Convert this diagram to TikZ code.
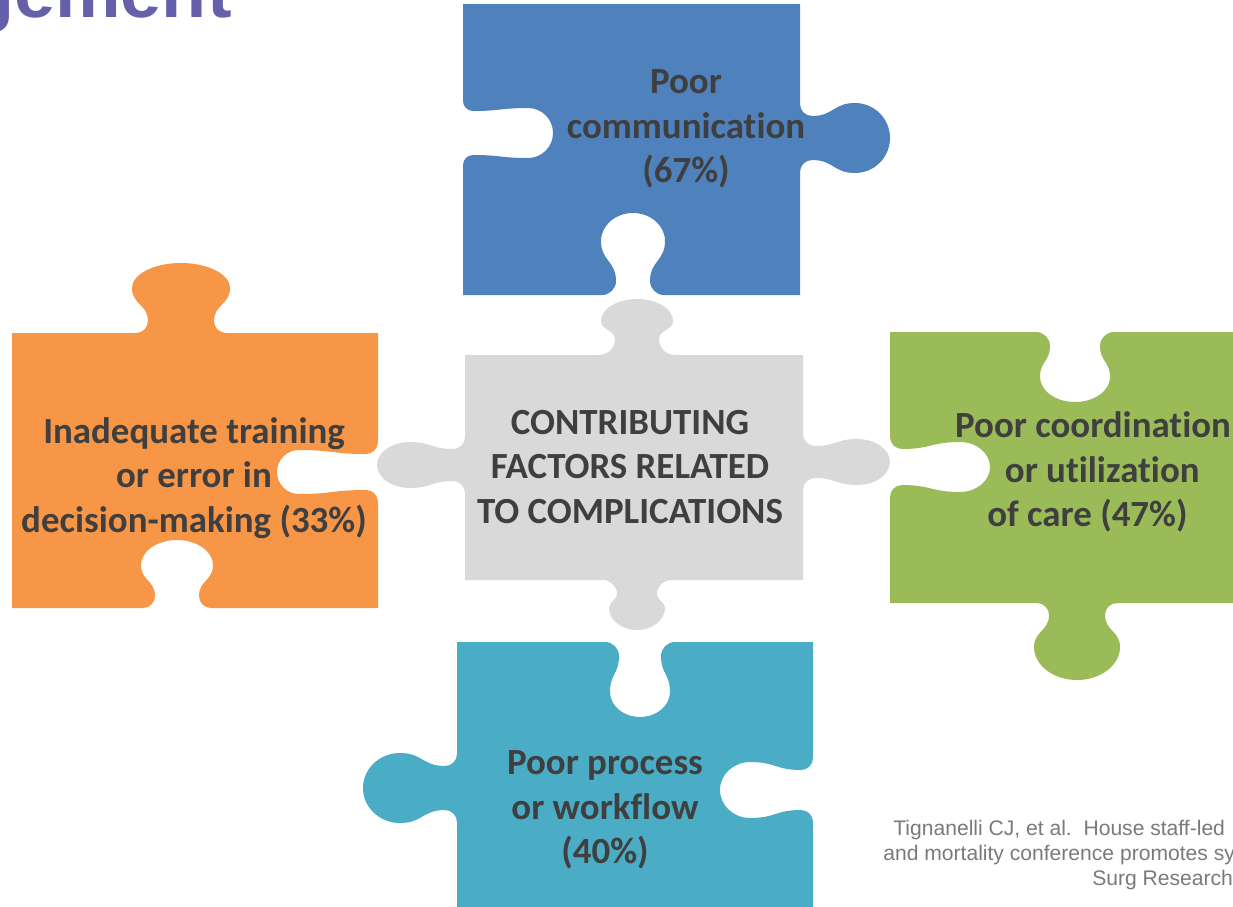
\documentclass[tikz,border=0pt]{standalone}
\usepackage{fontspec}
\setmainfont{Carlito}[Ligatures=NoCommon]
\newfontfamily\arialfont{Liberation Sans}

\definecolor{pblue}{HTML}{4F81BD}
\definecolor{pgray}{HTML}{D9D9D9}
\definecolor{porange}{HTML}{F79646}
\definecolor{pgreen}{HTML}{9BBB59}
\definecolor{pteal}{HTML}{4BACC6}
\definecolor{txtgray}{HTML}{3F3F3F}
\definecolor{titlepurple}{HTML}{6660AA}
\definecolor{citegray}{HTML}{7A7A7A}

% Puzzle tab (or slot) on a horizontal edge.
% #1 centre x, #2 edge y, #3 travel sign along x, #4 bulge sign along y,
% #5 knob half-width, #6 knob half-depth, #7 neck half-width, #8 depth, #9 flare
\newcommand\htab[9]{%
 -- ({#1+(#3)*(-(#7+#9))},{#2})
 .. controls ({#1+(#3)*(-(#7+0.45*#9))},{#2}) and ({#1-(#3)*(#7)},{#2+(#4)*(0.45*#9)}) .. ({#1-(#3)*(#7)},{#2+(#4)*(#9)})
 .. controls ({#1-(#3)*(#7)},{#2+(#4)*(#9+0.5*(#8-#6-#9))}) and ({#1-(#3)*(#5)},{#2+(#4)*(#8-#6-0.5*(#8-#6-#9))}) .. ({#1-(#3)*(#5)},{#2+(#4)*(#8-#6)})
 .. controls ({#1-(#3)*(#5)},{#2+(#4)*(#8-#6+0.552*#6)}) and ({#1-(#3)*(0.552*#5)},{#2+(#4)*(#8)}) .. ({#1},{#2+(#4)*(#8)})
 .. controls ({#1+(#3)*(0.552*#5)},{#2+(#4)*(#8)}) and ({#1+(#3)*(#5)},{#2+(#4)*(#8-#6+0.552*#6)}) .. ({#1+(#3)*(#5)},{#2+(#4)*(#8-#6)})
 .. controls ({#1+(#3)*(#5)},{#2+(#4)*(#8-#6-0.5*(#8-#6-#9))}) and ({#1+(#3)*(#7)},{#2+(#4)*(#9+0.5*(#8-#6-#9))}) .. ({#1+(#3)*(#7)},{#2+(#4)*(#9)})
 .. controls ({#1+(#3)*(#7)},{#2+(#4)*(0.45*#9)}) and ({#1+(#3)*(#7+0.45*#9)},{#2}) .. ({#1+(#3)*(#7+#9)},{#2})
}
% Same on a vertical edge: #1 edge x, #2 centre y, #3 travel sign along y, #4 bulge sign along x
\newcommand\vtab[9]{%
 -- ({#1},{#2+(#3)*(-(#7+#9))})
 .. controls ({#1},{#2+(#3)*(-(#7+0.45*#9))}) and ({#1+(#4)*(0.45*#9)},{#2-(#3)*(#7)}) .. ({#1+(#4)*(#9)},{#2-(#3)*(#7)})
 .. controls ({#1+(#4)*(#9+0.5*(#8-#6-#9))},{#2-(#3)*(#7)}) and ({#1+(#4)*(#8-#6-0.5*(#8-#6-#9))},{#2-(#3)*(#5)}) .. ({#1+(#4)*(#8-#6)},{#2-(#3)*(#5)})
 .. controls ({#1+(#4)*(#8-#6+0.552*#6)},{#2-(#3)*(#5)}) and ({#1+(#4)*(#8)},{#2-(#3)*(0.552*#5)}) .. ({#1+(#4)*(#8)},{#2})
 .. controls ({#1+(#4)*(#8)},{#2+(#3)*(0.552*#5)}) and ({#1+(#4)*(#8-#6+0.552*#6)},{#2+(#3)*(#5)}) .. ({#1+(#4)*(#8-#6)},{#2+(#3)*(#5)})
 .. controls ({#1+(#4)*(#8-#6-0.5*(#8-#6-#9))},{#2+(#3)*(#5)}) and ({#1+(#4)*(#9+0.5*(#8-#6-#9))},{#2+(#3)*(#7)}) .. ({#1+(#4)*(#9)},{#2+(#3)*(#7)})
 .. controls ({#1+(#4)*(0.45*#9)},{#2+(#3)*(#7)}) and ({#1},{#2+(#3)*(#7+0.45*#9)}) .. ({#1},{#2+(#3)*(#7+#9)})
}

\tikzset{
  piecetext/.style={font=\fontsize{21}{25.4}\selectfont\bfseries, text=txtgray,
                    align=center, inner sep=0pt},
  titletext/.style={font=\arialfont\fontsize{42}{48}\selectfont\bfseries,
                    text=titlepurple, inner sep=0pt},
  citetext/.style={font=\arialfont\fontsize{12}{14.2}\selectfont, text=citegray,
                   inner sep=0pt}
}

\begin{document}
\begin{tikzpicture}[x=0.02cm, y=-0.02cm]
\useasboundingbox (0,0) rectangle (1233,906);

% top piece
\fill[pblue] (463,4) -- (800,4)
  \vtab{800}{138}{1}{1}{35}{35}{22}{90}{12} -- (800,295)
  \htab{633}{295}{-1}{-1}{32}{28}{17}{82}{14} -- (463,295)
  \vtab{463}{133}{-1}{1}{25}{25}{22}{90}{10} -- cycle;

% centre piece
\fill[pgray] (465,355)
  \htab{637}{355}{1}{-1}{36}{22}{22}{56}{16} -- (803,355)
  \vtab{803}{462}{1}{1}{23}{33}{16}{87}{12} -- (803,580)
  \htab{637}{580}{-1}{1}{28}{22}{20}{50}{14} -- (465,580)
  \vtab{465}{465}{-1}{-1}{23}{33}{16}{88}{12} -- cycle;

% left piece
\fill[porange] (12,333)
  \htab{181}{333}{1}{-1}{49}{25}{33}{70}{12} -- (378,333)
  \vtab{378}{472}{1}{-1}{22}{22}{18}{101}{12} -- (378,608)
  \htab{177}{608}{-1}{-1}{36}{25}{22}{68}{12} -- (12,608) -- cycle;

% right piece
\fill[pgreen] (890,332)
  \htab{1075}{332}{1}{1}{35}{25}{25}{70}{14} -- (1245,332) -- (1245,603)
  \htab{1077}{603}{-1}{1}{43}{33}{28}{77}{12} -- (890,603)
  \vtab{890}{467}{-1}{1}{25}{30}{18}{100}{12} -- cycle;

% bottom piece
\fill[pteal] (457,642)
  \htab{640}{642}{1}{1}{30}{25}{21}{75}{14} -- (813,642)
  \vtab{813}{790}{1}{-1}{28}{30}{20}{93}{12} -- (813,915) -- (457,915)
  \vtab{457}{788}{-1}{-1}{35}{37}{22}{94}{12} -- cycle;

% labels
\node[piecetext] (comm) at (686,129) {Poor\\communication\\(67\%)};
\node[piecetext] (core) at (630,467) {CONTRIBUTING\\FACTORS RELATED\\TO COMPLICATIONS};
\node[piecetext] (train) at (194,478) {Inadequate training\\or error in\\decision-making (33\%)};
\node[piecetext] (coord) at (1093,472) {Poor coordination\\\hspace*{0.5em}or utilization\\of care (47\%)\hspace*{0.3em}};
\node[piecetext] (proc) at (605,810) {Poor process\\or workflow\\(40\%)};

% heading fragment
\node[titletext, anchor=base east] (title) at (232,17) {gement};

% reference
\node[citetext, anchor=base west] (cite1) at (893,835) {Tignanelli CJ, et al.\ \ House staff-led};
\node[citetext, anchor=base west] (cite2) at (883,860) {and mortality conference promotes sy};
\node[citetext, anchor=base west] (cite3) at (1092,885) {Surg Research};
\end{tikzpicture}
\end{document}
